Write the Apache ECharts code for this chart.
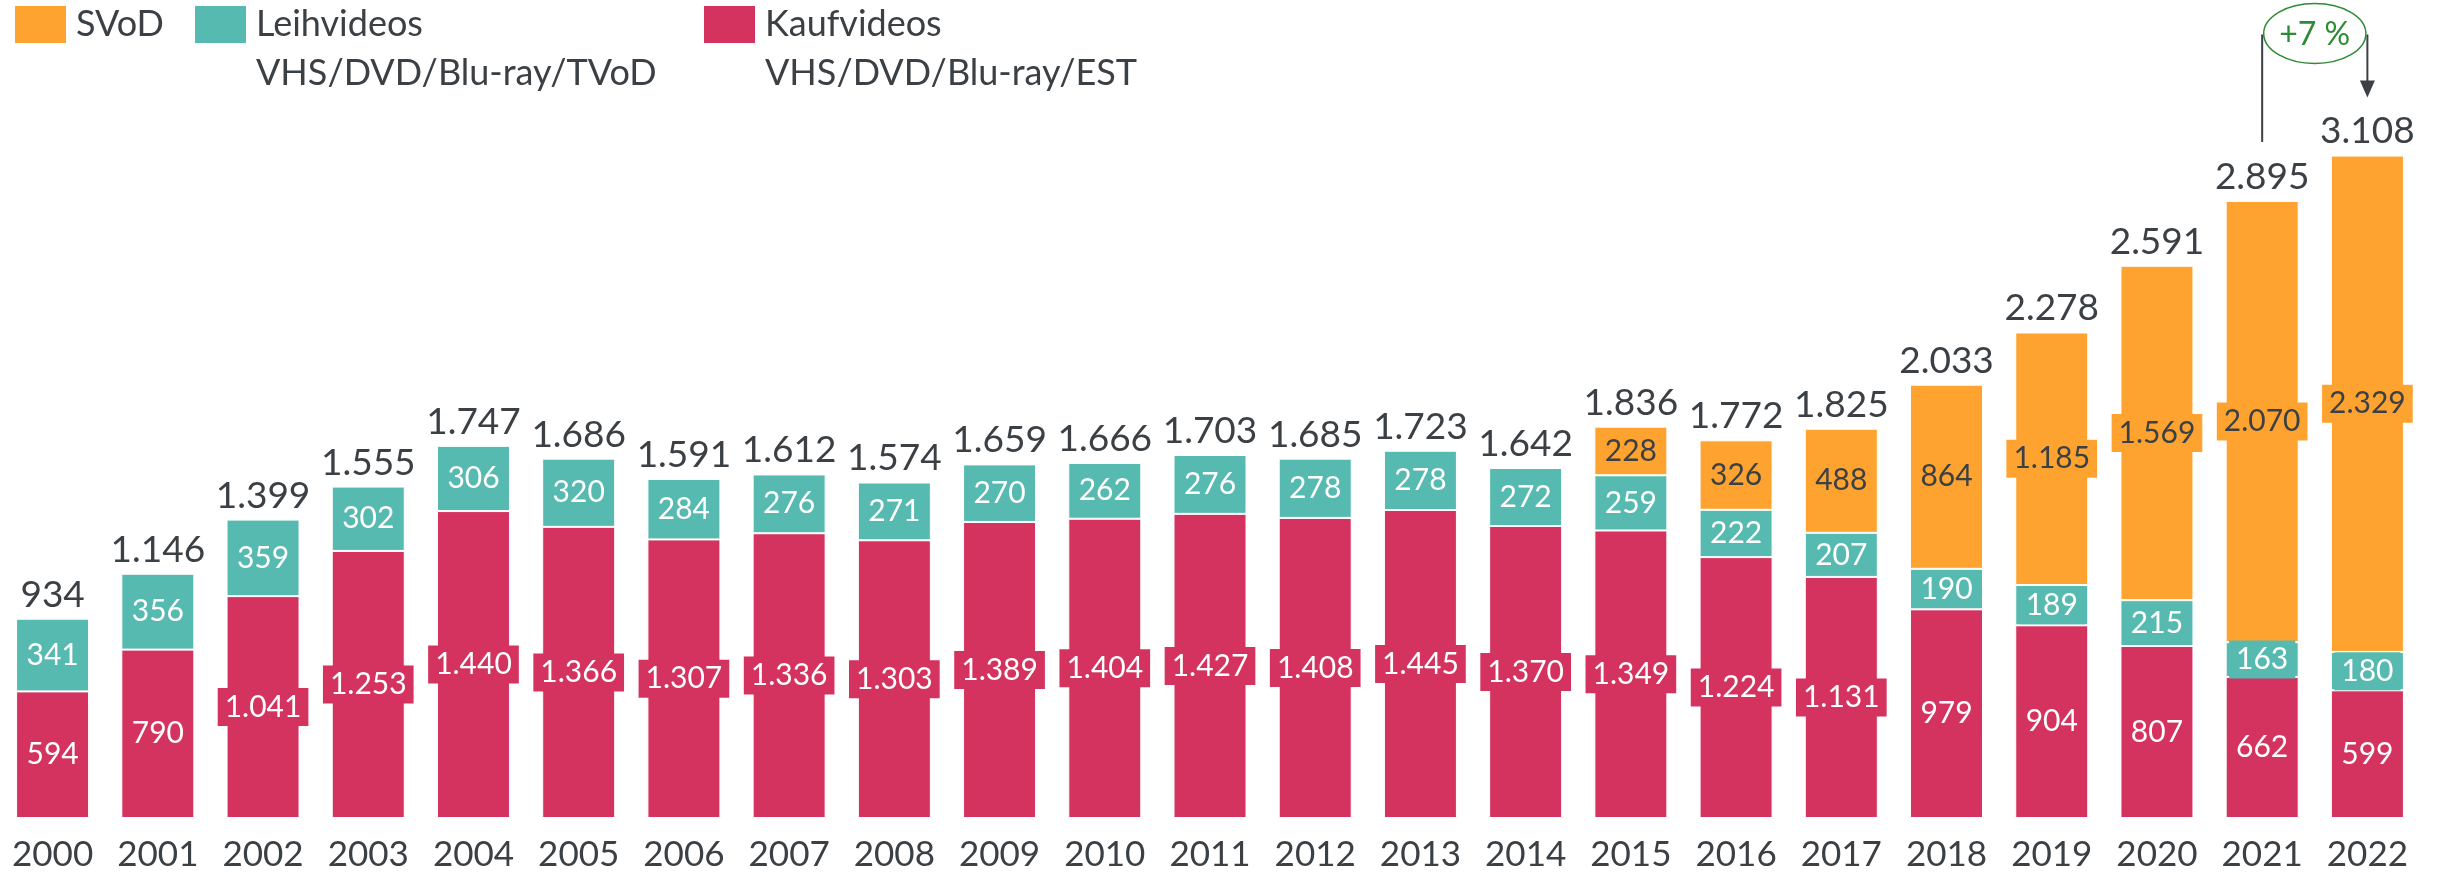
<!DOCTYPE html>
<html>
<head>
<meta charset="utf-8">
<script src="https://cdn.jsdelivr.net/npm/echarts@6/dist/echarts.min.js"></script>
<style>
html,body{margin:0;padding:0;background:#fff;}
#chart{width:2441px;height:874px;}
</style>
</head>
<body>
<div id="chart"></div>
<script>
const years = ['2000','2001','2002','2003','2004','2005','2006','2007','2008','2009','2010','2011','2012','2013','2014','2015','2016','2017','2018','2019','2020','2021','2022'];
const kaufvideos = [594,790,1041,1253,1440,1366,1307,1336,1303,1389,1404,1427,1408,1445,1370,1349,1224,1131,979,904,807,662,599];
const leihvideos = [341,356,359,302,306,320,284,276,271,270,262,276,278,278,272,259,222,207,190,189,215,163,180];
const svod = [null,null,null,null,null,null,null,null,null,null,null,null,null,null,null,228,326,488,864,1185,1569,2070,2329];
const totals = [934,1146,1399,1555,1747,1686,1591,1612,1574,1659,1666,1703,1685,1723,1642,1836,1772,1825,2033,2278,2591,2895,3108];
const changeLabel = '+7 %';

const C_SVOD = '#FEA330', C_LEIH = '#57BAB1', C_KAUF = '#D3335E';
const TXT = '#3B4045';
const FONT = 'Lato, "Noto Sans", sans-serif';

function fmt(v){ return String(v).replace(/\B(?=(\d{3})+(?!\d))/g, '.'); }

const chart = echarts.init(document.getElementById('chart'), null, {renderer:'canvas'});

function innerLabel(bg, color){
  return {
    show: true, position: 'inside', fontFamily: FONT, fontSize: 30, lineHeight: 30,
    color: color, backgroundColor: bg, padding: [4,7,4,7],
    formatter: p => fmt(p.value)
  };
}
const barCommon = { type:'bar', stack:'s', barWidth:73 };

function legendOf(name, left){
  return {
    data:[name], left:left, top:6, padding:0, itemWidth:51, itemHeight:37, icon:'rect',
    itemStyle:{borderWidth:0},
    textStyle:{fontFamily:FONT, fontSize:36, color:TXT, padding:[6,0,0,5]},
    selectedMode:false
  };
}

chart.setOption({
  animation:false,
  backgroundColor:'#fff',
  grid:{left:0, right:21, top:72, bottom:56},
  legend:[legendOf('SVoD',15), legendOf('Leihvideos',195), legendOf('Kaufvideos',704)],
  xAxis:{
    type:'category', data:years,
    axisLine:{show:false}, axisTick:{show:false},
    axisLabel:{interval:0, hideOverlap:false, fontFamily:FONT, fontSize:35, color:TXT, margin:19}
  },
  yAxis:{type:'value', min:0, max:3500, show:false, splitLine:{show:false}},
  series:[
    Object.assign({}, barCommon, {name:'Kaufvideos', data:kaufvideos, color:C_KAUF,
      itemStyle:{color:C_KAUF, borderColor:'#fff', borderWidth:1}, label:innerLabel(C_KAUF,'#fff')}),
    Object.assign({}, barCommon, {name:'Leihvideos', data:leihvideos, color:C_LEIH,
      itemStyle:{color:C_LEIH, borderColor:'#fff', borderWidth:1}, label:innerLabel(C_LEIH,'#fff')}),
    Object.assign({}, barCommon, {name:'SVoD', data:svod, color:C_SVOD,
      itemStyle:{color:C_SVOD, borderColor:'#fff', borderWidth:1}, label:innerLabel(C_SVOD,TXT)}),
    {type:'bar', stack:'s', barWidth:73, name:'Gesamt', data:totals.map(()=>0),
      itemStyle:{color:'transparent', borderWidth:0},
      label:{show:true, position:'top', distance:5.5, fontFamily:FONT, fontSize:37, lineHeight:37, color:TXT,
        formatter:p=>fmt(totals[p.dataIndex])}}
  ]
});

// annotation (second legend lines + change marker)
const x21 = chart.convertToPixel({xAxisIndex:0}, '2021');
const x22 = chart.convertToPixel({xAxisIndex:0}, '2022');
const y21 = chart.convertToPixel({yAxisIndex:0}, totals[21]);
const y22 = chart.convertToPixel({yAxisIndex:0}, totals[22]);
const cy = 33.5;
const tip = y22 - 58;
const GREEN = '#2E8B35';
chart.setOption({
  graphic:[
    {type:'text', left:256, top:55, style:{text:'VHS/DVD/Blu-ray/TVoD', font:'36px '+FONT, fill:TXT}},
    {type:'text', left:765, top:55, style:{text:'VHS/DVD/Blu-ray/EST', font:'36px '+FONT, fill:TXT}},
    {type:'line', shape:{x1:x21, y1:cy+1, x2:x21, y2:y21-59}, style:{stroke:TXT, lineWidth:2}},
    {type:'line', shape:{x1:x22, y1:cy+1, x2:x22, y2:tip-15}, style:{stroke:TXT, lineWidth:2}},
    {type:'polygon', shape:{points:[[x22-7.5,tip-17],[x22+7.5,tip-17],[x22,tip]]}, style:{fill:TXT}},
    {type:'ellipse', shape:{cx:(x21+x22)/2, cy:cy, rx:(x22-x21)/2-1.5, ry:30}, style:{fill:'#fff', stroke:GREEN, lineWidth:1.5}},
    {type:'text', x:(x21+x22)/2, y:cy+1, style:{text:changeLabel, font:'32px '+FONT, fill:GREEN, textAlign:'center', textVerticalAlign:'middle'}}
  ]
});
</script>
</body>
</html>
